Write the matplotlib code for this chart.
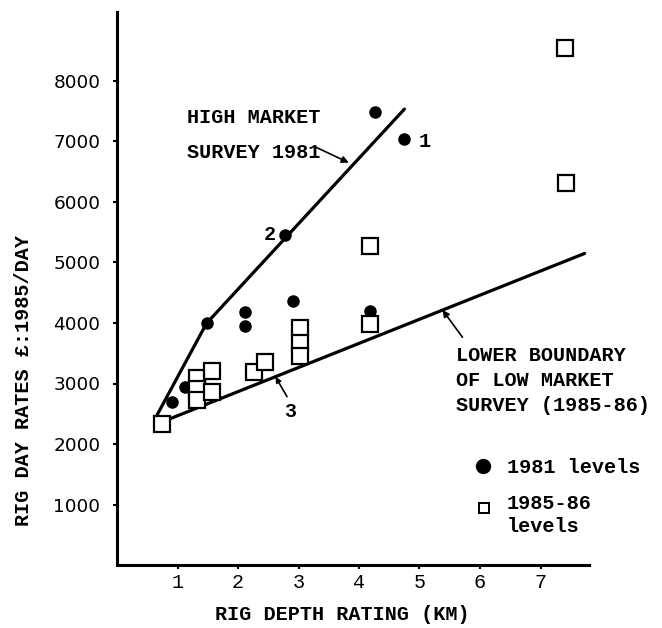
import matplotlib
matplotlib.use("Agg")
import matplotlib.pyplot as plt

# ---- data ----
x1981 = [0.91, 1.13, 1.48, 2.11, 2.11, 2.77, 2.91, 4.26, 4.75, 4.19]
y1981 = [2690, 2940, 3995, 3955, 4190, 5455, 4370, 7495, 7040, 4200]

x1985 = [0.74, 1.33, 1.33, 1.33, 1.57, 1.57, 2.26, 2.44, 3.03, 3.03, 3.03, 4.18, 4.19, 7.40, 7.42]
y1985 = [2330, 3090, 2905, 2730, 3210, 2865, 3185, 3350, 3910, 3675, 3460, 5270, 3985, 8540, 6320]

high_x = [0.66, 1.48, 4.75]
high_y = [2475, 3995, 7535]
low_x = [0.87, 7.73]
low_y = [2415, 5150]

xticks = [1, 2, 3, 4, 5, 6, 7]
yticks = [1000, 2000, 3000, 4000, 5000, 6000, 7000, 8000]

MONO = "Liberation Mono"
FS = 14.5
FW = "bold"

fig = plt.figure(figsize=(6.62, 6.28), dpi=100)
ax = fig.add_axes([117 / 662, (628 - 565) / 628, (589 - 117) / 662, (565 - 12) / 628])
ax.set_xlim(0, (589 - 117) / 60.5)
ax.set_ylim(0, (565 - 12) / 60.5 * 1000)

for s in ["top", "right"]:
    ax.spines[s].set_visible(False)
for s in ["left", "bottom"]:
    ax.spines[s].set_linewidth(2.2)

ax.set_xticks(xticks)
ax.set_xticklabels([str(t) for t in xticks], fontfamily=MONO, fontsize=FS)
ax.set_yticks(yticks)
ax.set_yticklabels([str(t) for t in yticks], fontfamily="DejaVu Sans", fontsize=13.3)
ax.tick_params(axis="y", direction="out", length=3, width=1.5, pad=9)
ax.tick_params(axis="x", direction="out", length=3, width=1.5, pad=3)

# lines
ax.plot(high_x, high_y, color="black", lw=2.3, solid_capstyle="round", zorder=2)
ax.plot(low_x, low_y, color="black", lw=2.3, solid_capstyle="round", zorder=2)

# points
ax.plot(x1981, y1981, "o", color="black", ms=8, zorder=3)
ax.plot(x1985, y1985, "s", mfc="white", mec="black", mew=1.6, ms=11, zorder=3)

txt = dict(fontfamily=MONO, fontsize=FS, fontweight=FW)

# annotations
ax.text(1.15, 7306, "HIGH MARKET", va="baseline", **txt)
ax.text(1.15, 6727, "SURVEY 1981", va="baseline", **txt)
ax.annotate("", xy=(3.83, 6650), xytext=(3.30, 6900),
            arrowprops=dict(arrowstyle="-|>", color="black", lw=1.2,
                            mutation_scale=10, shrinkA=0, shrinkB=0))

ax.text(5.60, 3377, "LOWER BOUNDARY", va="baseline", **txt)
ax.text(5.60, 2964, "OF LOW MARKET", va="baseline", **txt)
ax.text(5.60, 2550, "SURVEY (1985-86)", va="baseline", **txt)
ax.annotate("", xy=(5.38, 4215), xytext=(5.71, 3765),
            arrowprops=dict(arrowstyle="-|>", color="black", lw=1.2,
                            mutation_scale=10, shrinkA=0, shrinkB=0))

ax.text(2.52, 5471, "2", ha="center", va="center", **txt)
ax.text(5.09, 6997, "1", ha="center", va="center", **txt)
ax.text(2.86, 2534, "3", ha="center", va="center", **txt)
ax.annotate("", xy=(2.62, 3112), xytext=(2.81, 2782),
            arrowprops=dict(arrowstyle="-|>", color="black", lw=1.2,
                            mutation_scale=8, shrinkA=0, shrinkB=0))

# legend (manual)
ax.plot([6.05], [1636], "o", color="black", ms=10)
ax.text(6.44, 1521, "1981 levels", va="baseline", **txt)
ax.plot([6.07], [937], "s", mfc="white", mec="black", mew=1.4, ms=6.5)
ax.text(6.44, 920, "1985-86", va="baseline", **txt)
ax.text(6.44, 550, "levels", va="baseline", **txt)

# axis labels
fig.text(24 / 662, 1 - 380 / 628, "RIG DAY RATES £:1985/DAY",
         rotation=90, ha="center", va="center", **txt)
fig.text(342 / 662, 1 - 615 / 628, "RIG DEPTH RATING (KM)",
         ha="center", va="center", **txt)

fig.savefig("out.png", dpi=100, facecolor="white")
